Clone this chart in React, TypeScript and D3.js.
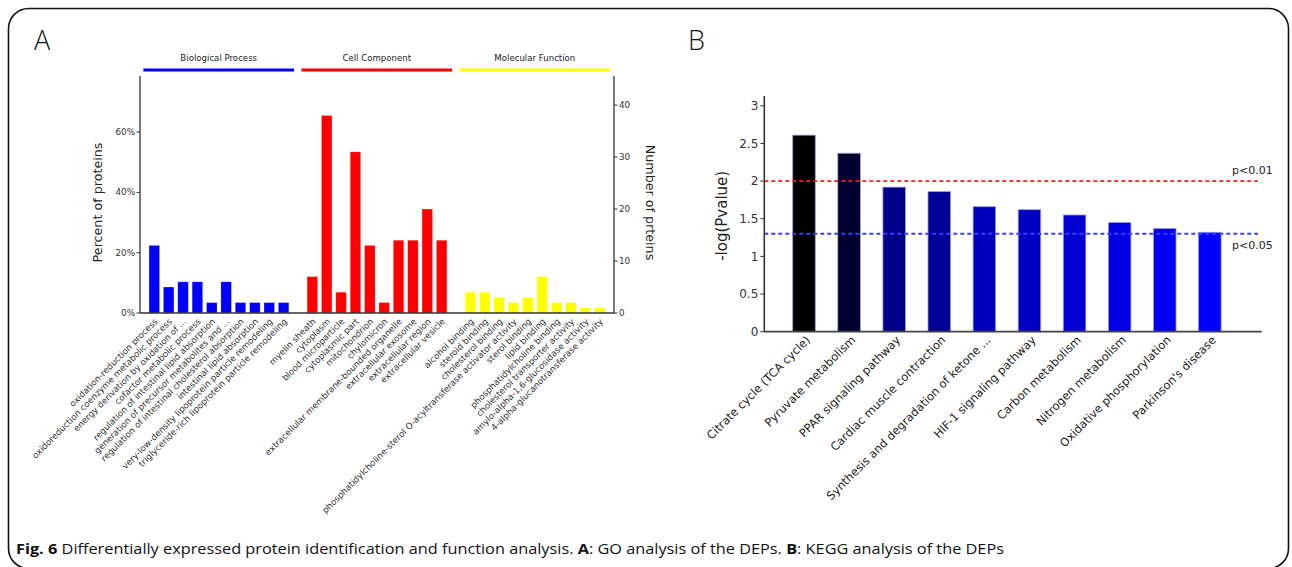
import React from "react";
import * as d3 from "d3";

// ---------- Panel A data (GO analysis) ----------
const groupNames = ["Biological Process", "Cell Component", "Molecular Function"];

const bpTerms = [
  "oxidation-reduction process",
  "oxidoreduction coenzyme metabolic process",
  "energy derivation by oxidation of ...",
  "cofactor metabolic process",
  "regulation of intestinal lipid absorption",
  "generation of precursor metabolites and ...",
  "regulation of intestinal cholesterol absorption",
  "intestinal lipid absorption",
  "very-low-density lipoprotein particle remodeling",
  "triglyceride-rich lipoprotein particle remodeling",
];
const bpCounts = [13, 5, 6, 6, 2, 6, 2, 2, 2, 2];

const ccTerms = [
  "myelin sheath",
  "cytoplasm",
  "blood microparticle",
  "cytoplasmic part",
  "mitochondrion",
  "chylomicron",
  "extracellular membrane-bounded organelle",
  "extracellular exosome",
  "extracellular region",
  "extracellular vesicle",
];
const ccCounts = [7, 38, 4, 31, 13, 2, 14, 14, 20, 14];

const mfTerms = [
  "alcohol binding",
  "steroid binding",
  "cholesterol binding",
  "phosphatidylcholine-sterol O-acyltransferase activator activity",
  "sterol binding",
  "lipid binding",
  "phosphatidylcholine binding",
  "cholesterol transporter activity",
  "amylo-alpha-1,6-glucosidase activity",
  "4-alpha-glucanotransferase activity",
];
const mfCounts = [4, 4, 3, 2, 3, 7, 2, 2, 1, 1];

const totalProteins = 58;
const pctTicks = [0, 0.2, 0.4, 0.6];
const countTicks = [0, 10, 20, 30, 40];

// ---------- Panel B data (KEGG analysis) ----------
const keggPathways = [
  "Citrate cycle (TCA cycle)",
  "Pyruvate metabolism",
  "PPAR signaling pathway",
  "Cardiac muscle contraction",
  "Synthesis and degradation of ketone ...",
  "HIF-1 signaling pathway",
  "Carbon metabolism",
  "Nitrogen metabolism",
  "Oxidative phosphorylation",
  "Parkinson's disease",
];
const keggValues = [2.61, 2.37, 1.92, 1.86, 1.66, 1.62, 1.55, 1.45, 1.37, 1.32];
const keggTicks = [0, 0.5, 1, 1.5, 2, 2.5, 3];
const thresholdValues = [2, -Math.log10(0.05)];
const thresholdLabels = ["p<0.01", "p<0.05"];

const FONT = "DejaVu Sans, sans-serif";

export default function App() {
  const W = 1292;
  const H = 567;

  // ---- Panel A geometry ----
  const aLeft = 140, aRight = 614, aTop = 76, aBottom = 313;
  const groupColors = ["#0000ff", "#ff0000", "#ffff00"];
  const groups = [
    { name: groupNames[0], terms: bpTerms, counts: bpCounts, color: groupColors[0] },
    { name: groupNames[1], terms: ccTerms, counts: ccCounts, color: groupColors[1] },
    { name: groupNames[2], terms: mfTerms, counts: mfCounts, color: groupColors[2] },
  ];
  const slotKeys: string[] = [];
  groups.forEach((g, gi) => {
    if (gi > 0) slotKeys.push("gap" + gi);
    g.terms.forEach((_, i) => slotKeys.push(`${gi}-${i}`));
  });
  const xA = d3.scaleBand<string>().domain(slotKeys).range([aLeft, aRight]).paddingInner(0.27).paddingOuter(0.63);
  const allCounts = [...bpCounts, ...ccCounts, ...mfCounts];
  const maxCount = (d3.max(allCounts) as number) * 1.2;
  const yCount = d3.scaleLinear().domain([0, maxCount]).range([aBottom, aTop]);
  const yPct = d3.scaleLinear().domain([0, maxCount / totalProteins]).range([aBottom, aTop]);
  const step = xA.step();
  const bw = xA.bandwidth();
  const fmtPct = d3.format(".0%");

  // ---- Panel B geometry ----
  const bLeft = 764.3, bRight = 1261.7, bTop = 96, bBottom = 331.7;
  const xB = d3.scaleLinear().domain([-0.88, keggValues.length - 1 + 1.15]).range([bLeft, bRight]);
  const yB = d3.scaleLinear().domain([0, 3.13]).range([bBottom, bTop]);
  const barW = xB(0.5) - xB(0);
  const colorB = d3
    .scaleLinear<string>()
    .domain([d3.min(keggValues) as number, d3.max(keggValues) as number])
    .range(["#0000ff", "#000000"])
    .interpolate(d3.interpolateRgb);
  const threshColors = ["#ff1a1a", "#3d3dff"];

  return (
    <svg
      width={W}
      height={H}
      style={{ position: "absolute", left: 0, top: 0, background: "#fff" }}
      fontFamily={FONT}
    >
      {/* frame */}
      <rect x={8.5} y={8.5} width={1280} height={560} rx={20} ry={20} fill="none" stroke="#111" strokeWidth={1.6} />

      {/* ================= Panel A ================= */}
      <text x={34} y={50} fontSize={27} fontFamily="Open Sans, sans-serif" fontWeight={300} fill="#111">A</text>

      {/* group headers */}
      {groups.map((g, gi) => {
        const first = xA(`${gi}-0`)! + bw / 2;
        const last = xA(`${gi}-${g.terms.length - 1}`)! + bw / 2;
        const x0 = first - 0.76 * step;
        const x1 = last + 0.73 * step;
        return (
          <g key={"hdr" + gi}>
            <line x1={x0} x2={x1} y1={70} y2={70} stroke={g.color} strokeWidth={3.2} />
            <text x={(x0 + x1) / 2} y={61} fontSize={8.6} textAnchor="middle" fill="#222">{g.name}</text>
          </g>
        );
      })}

      {/* bars */}
      {groups.map((g, gi) =>
        g.counts.map((c, i) => {
          const x = xA(`${gi}-${i}`)!;
          return (
            <rect
              key={`b${gi}-${i}`}
              x={x}
              y={yCount(c)}
              width={bw}
              height={aBottom - yCount(c)}
              fill={g.color}
              stroke="#ffffff"
              strokeOpacity={0.35}
              strokeWidth={0.6}
            />
          );
        })
      )}

      {/* axes */}
      <line x1={aLeft} x2={aLeft} y1={aTop} y2={aBottom} stroke="#333" strokeWidth={1.3} />
      <line x1={aRight} x2={aRight} y1={aTop} y2={aBottom} stroke="#333" strokeWidth={1.3} />
      <line x1={aLeft} x2={aRight} y1={aBottom} y2={aBottom} stroke="#333" strokeWidth={1.3} />

      {pctTicks.map((t) => (
        <g key={"pt" + t}>
          <line x1={aLeft - 3.5} x2={aLeft} y1={yPct(t)} y2={yPct(t)} stroke="#333" strokeWidth={1} />
          <text x={aLeft - 5} y={yPct(t) + 3} fontSize={8.8} textAnchor="end" fill="#333">{fmtPct(t)}</text>
        </g>
      ))}
      {countTicks.map((t) => (
        <g key={"ct" + t}>
          <line x1={aRight} x2={aRight + 3.5} y1={yCount(t)} y2={yCount(t)} stroke="#333" strokeWidth={1} />
          <text x={aRight + 5} y={yCount(t) + 3} fontSize={8.8} textAnchor="start" fill="#333">{t}</text>
        </g>
      ))}

      <text transform={`translate(102,${(aTop + aBottom) / 2 + 8}) rotate(-90)`} fontSize={12.7} textAnchor="middle" fill="#222">
        Percent of proteins
      </text>
      <text transform={`translate(646,${(aTop + aBottom) / 2 + 8}) rotate(90)`} fontSize={12.7} textAnchor="middle" fill="#222">
        Number of prteins
      </text>

      {/* category labels */}
      {groups.map((g, gi) =>
        g.terms.map((t, i) => {
          const cx = xA(`${gi}-${i}`)! + bw / 2;
          return (
            <text
              key={`l${gi}-${i}`}
              transform={`translate(${cx + 4},${aBottom + 9}) rotate(-45)`}
              fontSize={8.7}
              textAnchor="end"
              fill="#333"
            >
              {t}
            </text>
          );
        })
      )}

      {/* ================= Panel B ================= */}
      <text x={688} y={50} fontSize={27} fontFamily="Open Sans, sans-serif" fontWeight={300} fill="#111">B</text>

      {keggValues.map((v, i) => (
        <rect
          key={"kb" + i}
          x={xB(i) - barW / 2}
          y={yB(v)}
          width={barW}
          height={bBottom - yB(v)}
          fill={colorB(v)}
          stroke="#9c9cd8"
          strokeWidth={0.8}
        />
      ))}

      {thresholdValues.map((v, i) => (
        <line
          key={"th" + i}
          x1={bLeft}
          x2={1258}
          y1={yB(v)}
          y2={yB(v)}
          stroke={threshColors[i]}
          strokeWidth={1.8}
          strokeDasharray="4,3"
        />
      ))}
      <text x={1232} y={yB(thresholdValues[0]) - 7} fontSize={11} fill="#222">{thresholdLabels[0]}</text>
      <text x={1232} y={yB(thresholdValues[1]) + 15} fontSize={11} fill="#222">{thresholdLabels[1]}</text>

      <line x1={bLeft} x2={bLeft} y1={bTop} y2={bBottom} stroke="#333" strokeWidth={1.6} />
      <line x1={bLeft} x2={bRight} y1={bBottom} y2={bBottom} stroke="#444" strokeWidth={1.8} />

      {keggTicks.map((t) => (
        <g key={"kt" + t}>
          <line x1={bLeft - 4} x2={bLeft} y1={yB(t)} y2={yB(t)} stroke="#333" strokeWidth={1} />
          <text x={bLeft - 6} y={yB(t) + 4.3} fontSize={12} textAnchor="end" fill="#333">{String(t)}</text>
        </g>
      ))}
      <text transform={`translate(727,${(bTop + bBottom) / 2 + 2}) rotate(-90)`} fontSize={15} textAnchor="middle" fill="#222">
        -log(Pvalue)
      </text>

      {keggPathways.map((p, i) => (
        <text
          key={"kl" + i}
          transform={`translate(${xB(i) + 7},${bBottom + 9}) rotate(-45)`}
          fontSize={11.5}
          textAnchor="end"
          fill="#222"
        >
          {p}
        </text>
      ))}

      {/* caption */}
      <text x={16} y={554} fontSize={14.5} fontFamily="Open Sans, sans-serif" fill="#111" textLength={988} lengthAdjust="spacingAndGlyphs">
        <tspan fontWeight="bold">Fig. 6</tspan>
        <tspan> Differentially expressed protein identification and function analysis. </tspan>
        <tspan fontWeight="bold">A</tspan>
        <tspan>: GO analysis of the DEPs. </tspan>
        <tspan fontWeight="bold">B</tspan>
        <tspan>: KEGG analysis of the DEPs</tspan>
      </text>
    </svg>
  );
}
